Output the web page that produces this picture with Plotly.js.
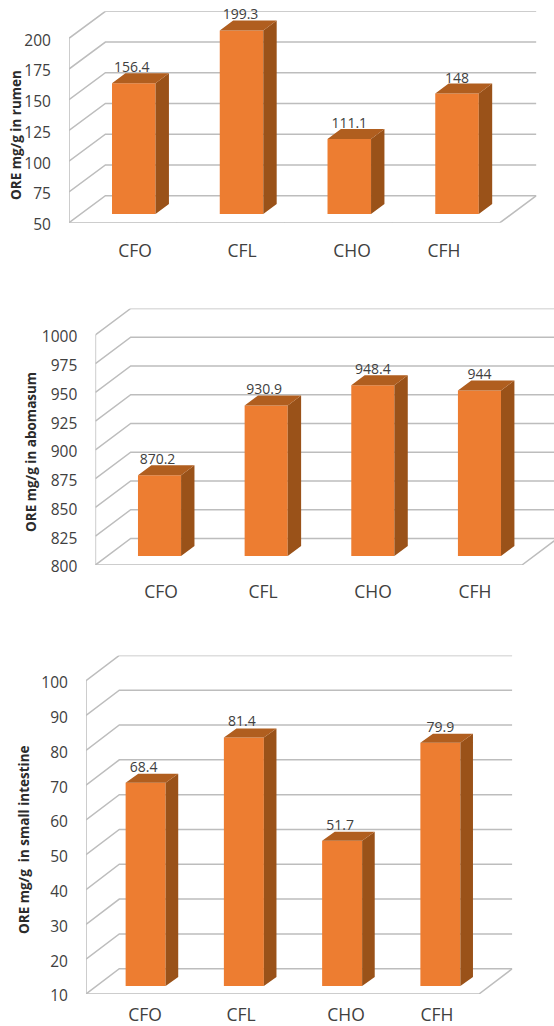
<!DOCTYPE html>
<html>
<head>
<meta charset="utf-8">
<script src="https://cdn.plot.ly/plotly-3.0.1.min.js"></script>
<style>html,body{margin:0;padding:0;background:#fff}#chart{width:554px;height:1026px}</style>
</head>
<body>
<div id="chart"></div>
<script>
// Ruminal, abomasal and intestinal ORE values per diet
const categories = ["CFO", "CFL", "CHO", "CFH"];
const rumenValues = [156.4, 199.3, 111.1, 148];
const abomasumValues = [870.2, 930.9, 948.4, 944];
const intestineValues = [68.4, 81.4, 51.7, 79.9];
const rumenTicks = [50, 75, 100, 125, 150, 175, 200];
const abomasumTicks = [800, 825, 850, 875, 900, 925, 950, 975, 1000];
const intestineTicks = [10, 20, 30, 40, 50, 60, 70, 80, 90, 100];

const W = 554, H = 1026;
const FRONT = "#ED7D31", SIDE = "#9A5219", TOP = "#B05E1F", GRID = "#BDBDBD", INK = "#404040";
const FONT = "'Open Sans', 'Noto Sans', sans-serif";

// Panel geometry in pixels; the oblique depth is converted to axis units below.
const panels = [
  { title: "ORE mg/g in rumen", values: rumenValues, ticks: rumenTicks,
    left: 69, right: 500, yLow: 222.7, yHigh: 38.3, wallDx: 36.4, wallDy: 27,
    barDx: 10.9, barDy: 8.7, sideDx: 13.4, sideDy: 10, barWidth: 0.404,
    catLabelX: [135, 242, 352, 444], catGap: 12, tickGap: 14, tickMarks: true,
    labelShift: [-2, -1, 0, 0], titleX: 16, titleY: 135 },
  { title: "ORE mg/g in abomasum", values: abomasumValues, ticks: abomasumTicks,
    left: 95.4, right: 522, yLow: 565, yHigh: 335, wallDx: 35.3, wallDy: 26.5,
    barDx: 10.8, barDy: 9, sideDx: 13.4, sideDy: 10, barWidth: 0.404,
    catLabelX: [161, 263, 373, 475], catGap: 11, tickGap: 14, tickMarks: false,
    labelShift: [-2, -2, 0, 0], titleX: 31, titleY: 452 },
  { title: "ORE mg/g  in small intestine", values: intestineValues, ticks: intestineTicks,
    left: 86, right: 479, yLow: 994, yHigh: 680.7, wallDx: 33.3, wallDy: 25.3,
    barDx: 10.5, barDy: 8, sideDx: 12.6, sideDy: 9, barWidth: 0.407,
    catLabelX: [145, 241, 346, 437], catGap: 5, tickGap: 14, tickMarks: false,
    labelShift: [-2, -2, -2, 0], titleX: 24, titleY: 840 }
];

const traces = [];
const layout = {
  width: W, height: H, margin: { l: 0, r: 0, t: 0, b: 0 },
  paper_bgcolor: "#fff", plot_bgcolor: "rgba(0,0,0,0)",
  showlegend: false, annotations: [], font: { family: FONT, color: INK }
};

panels.forEach((p, k) => {
  const mainX = "x" + (2 * k + 1), mainY = "y" + (2 * k + 1);
  const barX = "x" + (2 * k + 2), barY = "y" + (2 * k + 2);
  const axisName = (id) => id[0] + "axis" + id.slice(1);

  const n = categories.length;
  const low = p.ticks[0], high = p.ticks[p.ticks.length - 1];
  const pxPerCat = (p.right - p.left) / n;
  const pxPerUnit = (p.yLow - p.yHigh) / (high - low);
  const toCat = (px) => px / pxPerCat;
  const toVal = (px) => px / pxPerUnit;

  // Axis extents include the back wall, clipped to the page width.
  const xEnd = n + toCat(p.wallDx);
  const plotRight = Math.min(W, p.left + xEnd * pxPerCat);
  const xMax = (plotRight - p.left) / pxPerCat;
  const yMax = high + toVal(p.wallDy);
  const plotTop = p.yLow - (yMax - low) * pxPerUnit;
  const domX = [p.left / W, plotRight / W];
  const domY = [1 - p.yLow / H, 1 - plotTop / H];

  layout[axisName(mainX)] = {
    domain: domX, range: [0, xMax], anchor: mainY, fixedrange: true, showgrid: false, zeroline: false,
    tickmode: "array", tickvals: p.catLabelX.map((px) => toCat(px - p.left)), ticktext: categories,
    ticks: "outside", ticklen: p.catGap, tickcolor: "rgba(0,0,0,0)", tickfont: { family: FONT, size: 17.5, color: INK }
  };
  layout[axisName(mainY)] = {
    domain: domY, range: [low, yMax], anchor: mainX, fixedrange: true, showgrid: false, zeroline: false,
    tickmode: "array", tickvals: p.ticks, ticktext: p.ticks.map(String), ticklabelshift: 2,
    ticks: "outside", ticklen: p.tickGap, tickcolor: "rgba(0,0,0,0)", tickfont: { family: FONT, size: 15.5, color: INK }
  };
  // Overlay axes: the plane of the bars' front faces, shifted into the floor.
  layout[axisName(barX)] = {
    domain: domX, range: [-toCat(p.barDx), xMax - toCat(p.barDx)], anchor: barY, overlaying: mainX,
    visible: false, fixedrange: true
  };
  layout[axisName(barY)] = {
    domain: domY, range: [low - toVal(p.barDy), yMax - toVal(p.barDy)], anchor: barX, overlaying: mainY,
    visible: false, fixedrange: true
  };

  // Walls: each gridline runs back along the side wall, then across the back wall.
  const gx = [], gy = [];
  p.ticks.forEach((t) => {
    gx.push(0, toCat(p.wallDx), xEnd, null);
    gy.push(t, t + toVal(p.wallDy), t + toVal(p.wallDy), null);
  });
  gx.push(0, 0, null, 0, n, xEnd);
  gy.push(low, high, null, low, low, low + toVal(p.wallDy));
  traces.push({ type: "scatter", mode: "lines", x: gx, y: gy, xaxis: mainX, yaxis: mainY,
    line: { color: GRID, width: 1.5 }, hoverinfo: "skip", connectgaps: false });

  if (p.tickMarks) {
    const mx = [], my = [];
    for (let i = 0; i <= n; i++) { mx.push(i, i, null); my.push(low, low - toVal(5), null); }
    p.ticks.forEach((t) => { mx.push(0, toCat(-5), null); my.push(t, t, null); });
    traces.push({ type: "scatter", mode: "lines", x: mx, y: my, xaxis: mainX, yaxis: mainY, cliponaxis: false,
      line: { color: GRID, width: 1.2 }, hoverinfo: "skip" });
  }

  const centers = categories.map((_, i) => i + 0.5);

  // Value labels sit beneath the bars' layer, so the top faces slightly overlap them.
  traces.push({ type: "scatter", mode: "text", xaxis: mainX, yaxis: mainY, cliponaxis: false,
    x: centers.map((c, i) => c + toCat(p.barDx + p.labelShift[i])),
    y: p.values.map((v) => v + toVal(p.barDy + 14.5)),
    text: p.values.map(String), textposition: "middle center",
    textfont: { family: FONT, size: 14, color: INK }, hoverinfo: "skip" });

  traces.push({ type: "bar", x: centers, y: p.values.map((v) => v - low), base: low, width: p.barWidth,
    xaxis: barX, yaxis: barY, marker: { color: FRONT, line: { width: 0 } },
    customdata: categories, hovertemplate: "%{customdata}<extra></extra>" });

  // Oblique faces of each bar
  const half = p.barWidth / 2, ddx = toCat(p.sideDx), ddy = toVal(p.sideDy);
  const sx = [], sy = [], tx = [], ty = [];
  p.values.forEach((v, i) => {
    const a = centers[i] - half, b = centers[i] + half;
    sx.push(b, b + ddx, b + ddx, b, b, null);
    sy.push(low, low + ddy, v + ddy, v, low, null);
    tx.push(a, a + ddx, b + ddx, b, a, null);
    ty.push(v, v + ddy, v + ddy, v, v, null);
  });
  traces.push({ type: "scatter", mode: "lines", x: sx, y: sy, xaxis: barX, yaxis: barY, fill: "toself",
    fillcolor: SIDE, line: { width: 0 }, hoverinfo: "skip" });
  traces.push({ type: "scatter", mode: "lines", x: tx, y: ty, xaxis: barX, yaxis: barY, fill: "toself",
    fillcolor: TOP, line: { width: 0 }, hoverinfo: "skip" });

  layout.annotations.push({
    text: "<b>" + p.title.replace(/ {2}/g, "&nbsp; ") + "</b>", xref: "paper", yref: "paper",
    x: p.titleX / W, y: 1 - p.titleY / H, textangle: -90, showarrow: false,
    xanchor: "center", yanchor: "middle", font: { family: FONT, size: 13.5, color: "#2b2b2b" }
  });
});

Plotly.newPlot("chart", traces, layout, { displayModeBar: false, staticPlot: true });
</script>
</body>
</html>
